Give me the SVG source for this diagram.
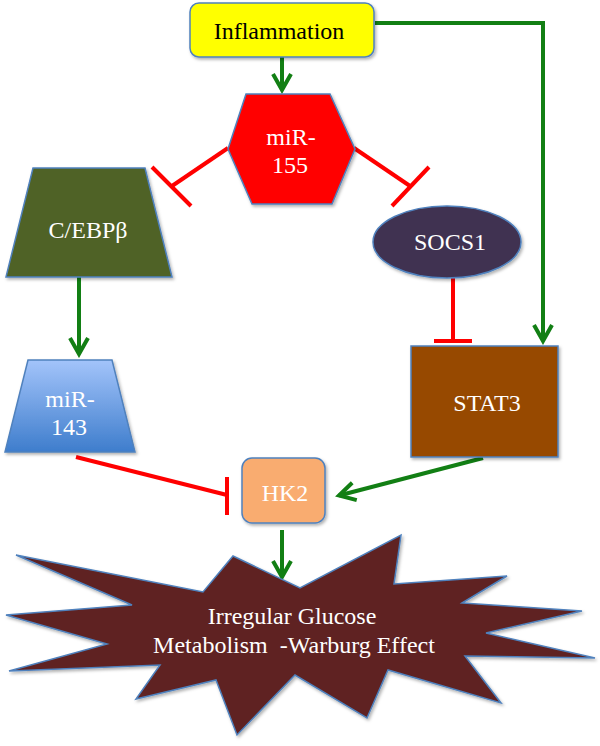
<svg xmlns="http://www.w3.org/2000/svg" width="600" height="746" viewBox="0 0 600 746">
  <defs>
    <linearGradient id="blueGrad" x1="0" y1="0" x2="0" y2="1">
      <stop offset="0" stop-color="#A3C4FA"/>
      <stop offset="1" stop-color="#3E7DCC"/>
    </linearGradient>
    <filter id="shadow" x="-10%" y="-10%" width="130%" height="130%">
      <feDropShadow dx="1.5" dy="2" stdDeviation="1.5" flood-color="#000" flood-opacity="0.3"/>
    </filter>
    <marker id="arrow" viewBox="-20 -12 24 24" refX="0" refY="0" markerWidth="24" markerHeight="24" markerUnits="userSpaceOnUse" orient="auto">
      <path d="M -16,-9 L 0,0 L -16,9" fill="none" stroke="#127F14" stroke-width="4" stroke-linejoin="miter"/>
    </marker>
    <style>
      .node { stroke: #4F81BD; stroke-width: 1.5; filter: url(#shadow); }
      .lbl { font-family: "Liberation Serif", "Times New Roman", serif; font-size: 24px; text-anchor: middle; fill: #FFFFFF; }
      .dark { fill: #000000; }
      .act { fill: none; stroke: #127F14; stroke-width: 4; }
      .inh { fill: none; stroke: #FF0000; stroke-width: 4; }
    </style>
  </defs>

  <g id="connectors">
    <!-- Inflammation -> miR-155 -->
    <line class="act" x1="282" y1="57" x2="282" y2="90" marker-end="url(#arrow)"/>
    <!-- Inflammation -> STAT3 -->
    <polyline class="act" points="375,23 543,23 543,341" marker-end="url(#arrow)"/>
    <!-- miR-155 -| C/EBPb -->
    <line class="inh" x1="228" y1="148" x2="172" y2="186"/>
    <line class="inh" x1="152" y1="167" x2="191" y2="206"/>
    <!-- miR-155 -| SOCS1 -->
    <line class="inh" x1="354" y1="148" x2="410" y2="186"/>
    <line class="inh" x1="429" y1="167" x2="392" y2="206"/>
    <!-- C/EBPb -> miR-143 -->
    <line class="act" x1="79" y1="277" x2="79" y2="354" marker-end="url(#arrow)"/>
    <!-- SOCS1 -| STAT3 -->
    <line class="inh" x1="453" y1="278" x2="453" y2="341"/>
    <line class="inh" x1="434" y1="341" x2="472" y2="341"/>
    <!-- miR-143 -| HK2 -->
    <line class="inh" x1="76" y1="457" x2="227" y2="495"/>
    <line class="inh" x1="227" y1="477" x2="227" y2="515"/>
    <!-- STAT3 -> HK2 -->
    <line class="act" x1="483" y1="458" x2="339" y2="495.5" marker-end="url(#arrow)"/>
    <!-- HK2 -> Warburg -->
    <line class="act" x1="282" y1="530" x2="282" y2="577" marker-end="url(#arrow)"/>
  </g>

  <g id="inflammation">
    <rect class="node" x="190" y="3" width="184" height="54" rx="9" fill="#FFFF00"/>
    <text class="lbl dark" x="279" y="39">Inflammation</text>
  </g>

  <g id="mir155">
    <polygon class="node" points="246,94 330,94 355,149 332,204 252,204 228,149" fill="#FF0000"/>
    <text class="lbl" x="291" y="145">miR-</text>
    <text class="lbl" x="290" y="173">155</text>
  </g>

  <g id="cebpb">
    <polygon class="node" points="33,168 145,168 172,277 6,277" fill="#4F6228"/>
    <text class="lbl" x="88" y="238">C/EBPβ</text>
  </g>

  <g id="socs1">
    <ellipse class="node" cx="447" cy="242" rx="74" ry="36" fill="#403151"/>
    <text class="lbl" x="450" y="250">SOCS1</text>
  </g>

  <g id="mir143">
    <polygon class="node" points="28,360 112,360 135,452 5,452" fill="url(#blueGrad)"/>
    <text class="lbl" x="70" y="407">miR-</text>
    <text class="lbl" x="69" y="435">143</text>
  </g>

  <g id="stat3">
    <rect class="node" x="411" y="346" width="147" height="111" fill="#974806"/>
    <text class="lbl" x="487" y="411">STAT3</text>
  </g>

  <g id="hk2">
    <rect class="node" x="242" y="458" width="83" height="65" rx="10" fill="#F9AC70"/>
    <text class="lbl" x="285" y="501">HK2</text>
  </g>

  <g id="warburg">
    <polygon class="node" points="16,555 203,592 233,556 300,588 401,535 394,584 507,576 462,603 582,611 486,633 595,658 465,656 501,703 388,670 367,718 295,675 237,735 216,680 136,699 160,665 9,671 107,644 6,615 132,605" fill="#5E2323"/>
    <text class="lbl" x="292" y="624">Irregular Glucose</text>
    <text class="lbl" x="294" y="653" style="white-space:pre" xml:space="preserve">Metabolism  -Warburg Effect</text>
  </g>
</svg>
